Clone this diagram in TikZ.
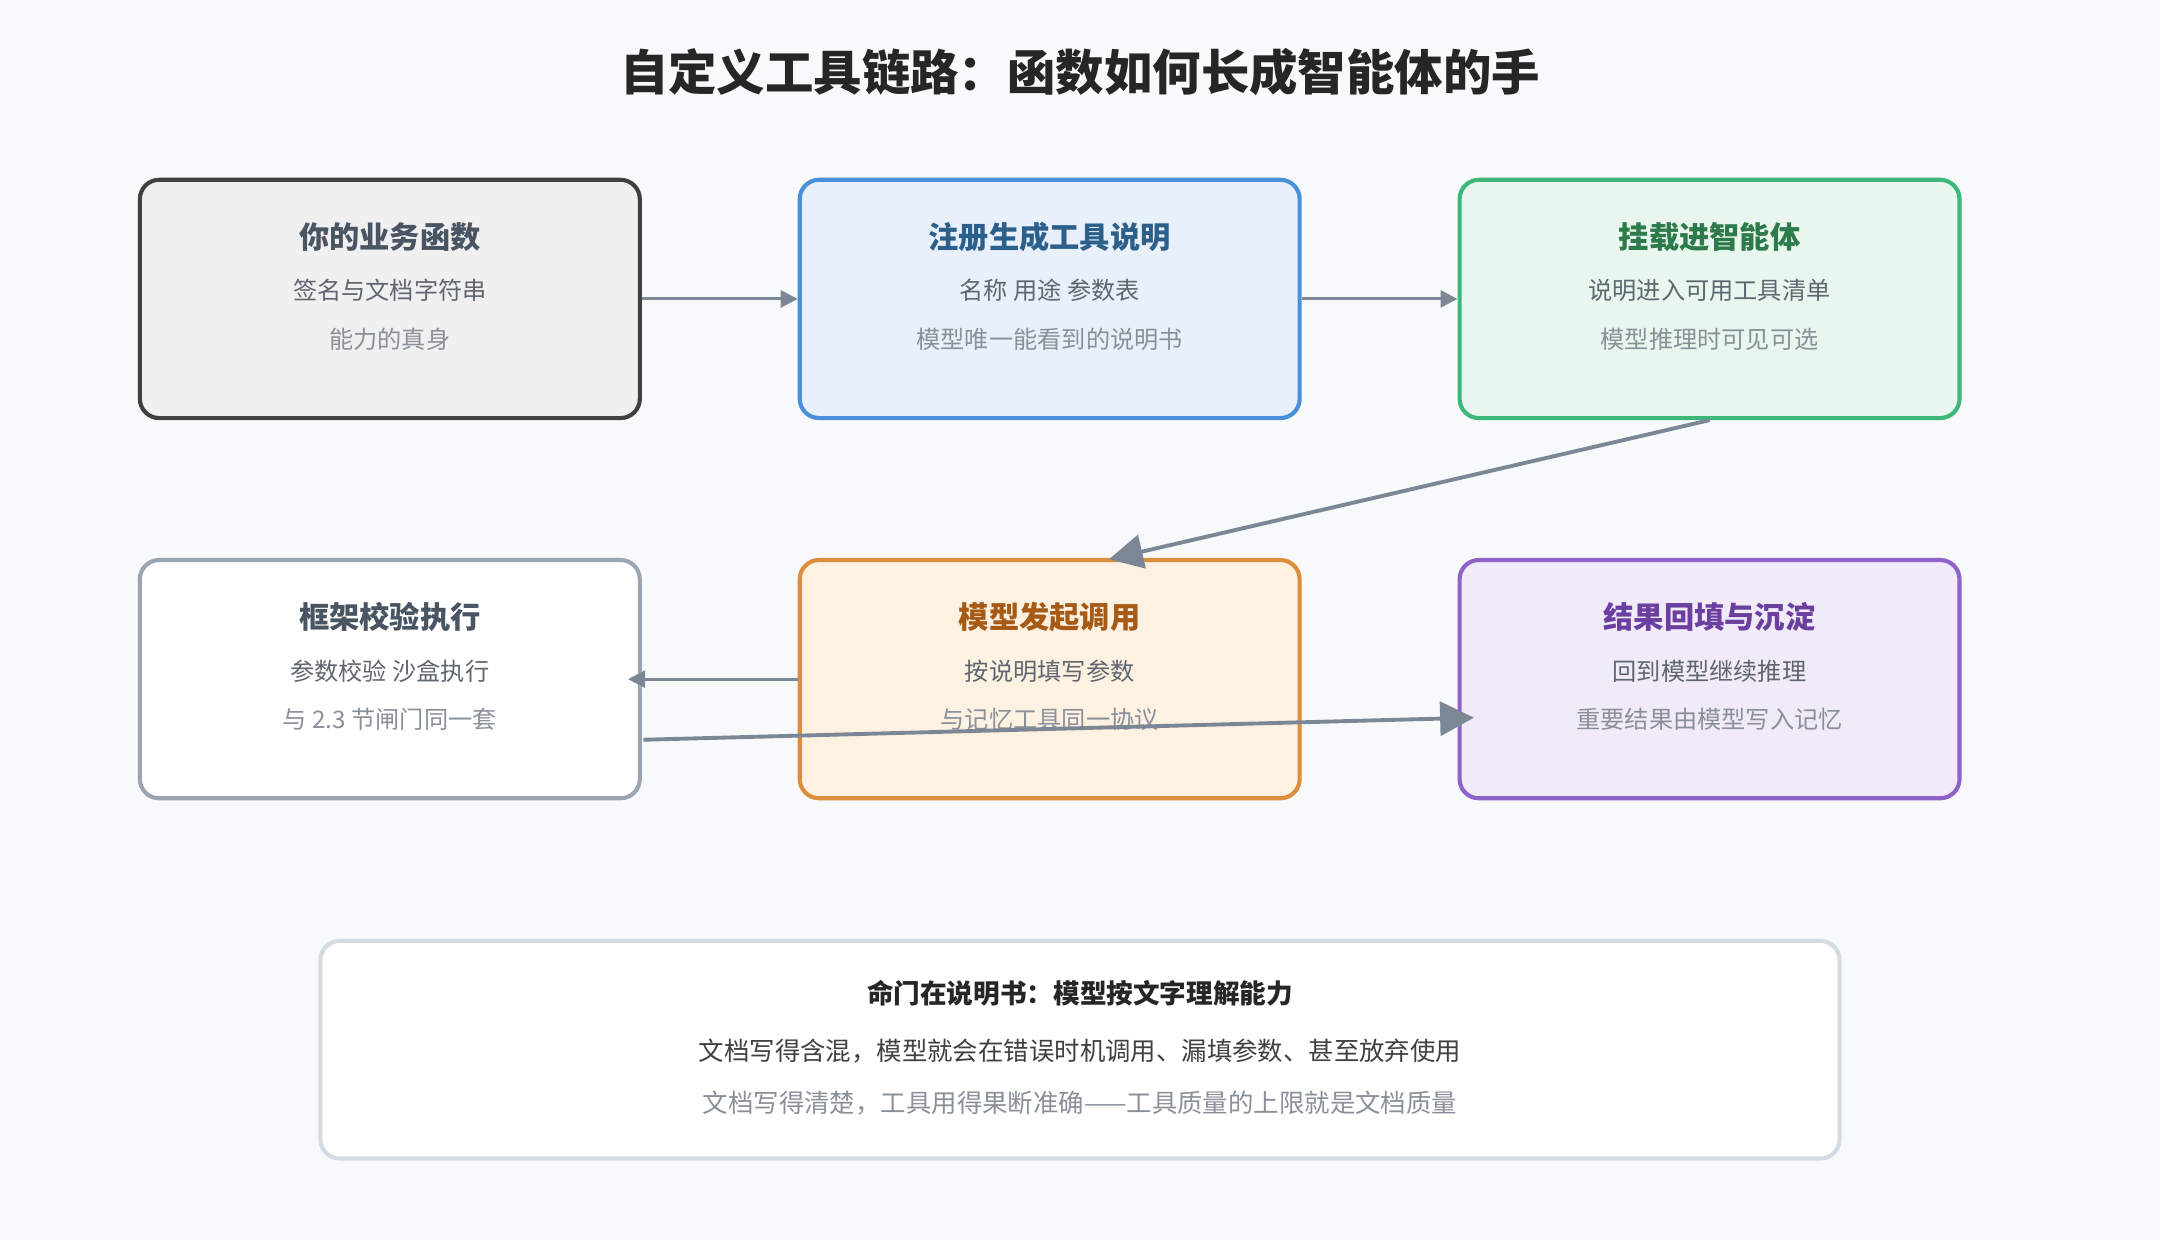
\documentclass[tikz,border=0pt]{standalone}
\usepackage{fontspec}
\setmainfont{Noto Sans CJK SC}
\usetikzlibrary{arrows.meta,positioning}
\definecolor{bgc}{HTML}{F7F9FB}
\definecolor{arrowc}{HTML}{7B8794}
\definecolor{subc}{HTML}{5F6670}
\definecolor{thirdc}{HTML}{8A9099}
\tikzset{
  box/.style={draw, rounded corners=0.28cm, line width=1.7pt, minimum width=7.26cm, minimum height=3.46cm},
  head/.style={font=\bfseries\fontsize{12.5}{14}\selectfont},
  sub/.style={text=subc, font=\fontsize{10}{12}\selectfont},
  third/.style={text=thirdc, font=\fontsize{10}{12}\selectfont},
  link/.style={draw=arrowc, line width=1.2pt, -{Triangle[length=7pt,width=7pt]}},
  biglink/.style={draw=arrowc, line width=1.6pt, -{Triangle[length=14pt,width=14pt]}}
}
\begin{document}
\begin{tikzpicture}[x=0.02cm, y=-0.02cm]
   \fill[bgc] (0,0) rectangle (1568,900);
   \node[font=\bfseries\fontsize{20}{24}\selectfont, text=black!85] (title) at (784,52) {自定义工具链路：函数如何长成智能体的手};
   % first row
   \node[box, draw=black!50!gray, fill=gray!12] (n1) at (283,217) {};
   \node[box, draw={rgb,255:red,74;green,144;blue,217}, fill={rgb,255:red,232;green,240;blue,251}] (n2) at (762,217) {};
   \node[box, draw={rgb,255:red,61;green,183;blue,122}, fill={rgb,255:red,232;green,246;blue,238}] (n3) at (1241,217) {};
   % second row
   \node[box, draw={rgb,255:red,154;green,165;blue,177}, fill=white] (n4) at (283,493) {};
   \node[box, draw={rgb,255:red,221;green,142;blue,61}, fill={rgb,255:red,253;green,241;blue,226}] (n5) at (762,493) {};
   \node[box, draw={rgb,255:red,142;green,98;blue,201}, fill={rgb,255:red,241;green,234;blue,249}] (n6) at (1241,493) {};
   % labels
   \node[head, text={rgb,255:red,74;green,85;blue,99}] (n1h) at (283,172) {你的业务函数};
   \node[sub] (n1s) at (283,211) {签名与文档字符串};
   \node[third] (n1t) at (283,246) {能力的真身};
   \node[head, text={rgb,255:red,44;green,95;blue,138}] (n2h) at (762,172) {注册生成工具说明};
   \node[sub] (n2s) at (762,211) {名称 用途 参数表};
   \node[third] (n2t) at (762,246) {模型唯一能看到的说明书};
   \node[head, text={rgb,255:red,45;green,122;blue,74}] (n3h) at (1241,172) {挂载进智能体};
   \node[sub] (n3s) at (1241,211) {说明进入可用工具清单};
   \node[third] (n3t) at (1241,246) {模型推理时可见可选};
   \node[head, text={rgb,255:red,74;green,85;blue,99}] (n4h) at (283,448) {框架校验执行};
   \node[sub] (n4s) at (283,487) {参数校验 沙盒执行};
   \node[third] (n4t) at (283,522) {与 2.3 节闸门同一套};
   \node[head, text={rgb,255:red,166;green,90;blue,22}] (n5h) at (762,448) {模型发起调用};
   \node[sub] (n5s) at (762,487) {按说明填写参数};
   \node[third] (n5t) at (762,522) {与记忆工具同一协议};
   \node[head, text={rgb,255:red,107;green,63;blue,160}] (n6h) at (1241,448) {结果回填与沉淀};
   \node[sub] (n6s) at (1241,487) {回到模型继续推理};
   \node[third] (n6t) at (1241,522) {重要结果由模型写入记忆};
   % bottom note
   \node[box, draw={rgb,255:red,213;green,219;blue,227}, fill=white, minimum width=22.06cm, minimum height=3.16cm] (note) at (784,762) {};
   \node[font=\bfseries\fontsize{11}{13}\selectfont, text=black!85] (noteh) at (784,721) {命门在说明书：模型按文字理解能力};
   \node[text=black!75, font=\fontsize{10.5}{12}\selectfont] (notes) at (784,763) {文档写得含混，模型就会在错误时机调用、漏填参数、甚至放弃使用};
   \node[third, font=\fontsize{10.5}{12}\selectfont] (notet) at (784,801) {文档写得清楚，工具用得果断准确——工具质量的上限就是文档质量};
   % connectors
   \coordinate (p5) at (805,406);
   \coordinate (p4) at (467,537);
   \coordinate (p6) at (1070,521);
   \draw[link] (n1.east) -- (n2.west);
   \draw[link] (n2.east) -- (n3.west);
   \draw[biglink] (n3.south) -- (p5);
   \draw[link] (n5.west) -- ([xshift=-0.2cm]n4.east);
   \draw[biglink] (p4) -- (p6);
\end{tikzpicture}
\end{document}
